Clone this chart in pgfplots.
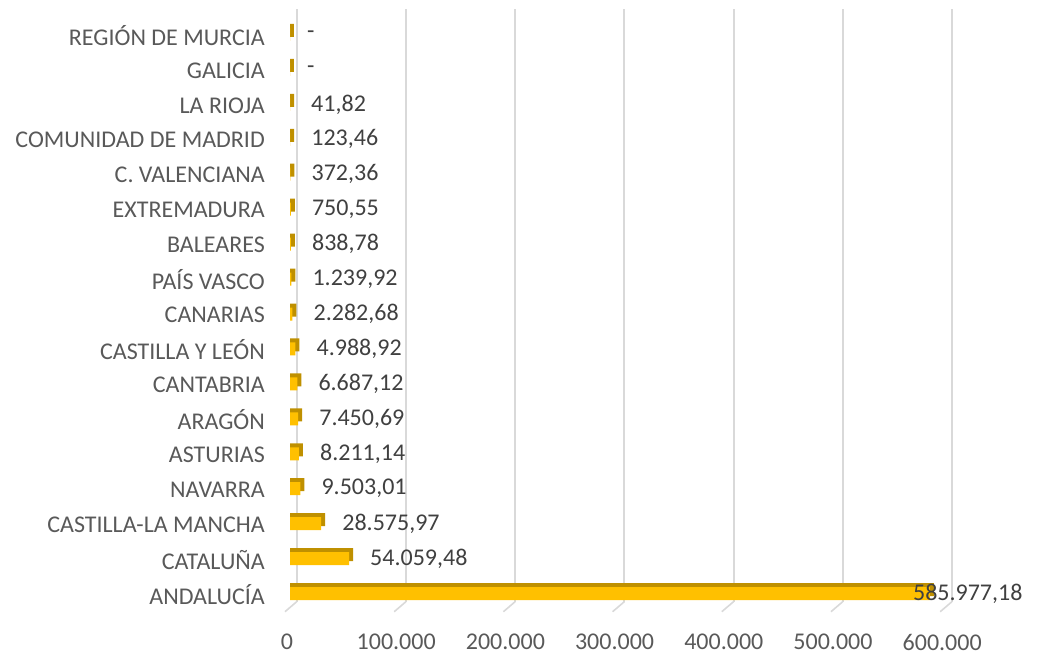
\documentclass[border=0pt]{standalone}
\usepackage{pgfplots}
\pgfplotsset{compat=1.18}
\usepackage{pgfplotstable}
\usepackage{fontspec}
\setmainfont{Carlito}
\definecolor{barfront}{HTML}{FFC000}
\definecolor{bardark}{HTML}{BF9000}
\definecolor{gridc}{HTML}{D9D9D9}
\definecolor{axtext}{HTML}{595959}
\definecolor{valtext}{HTML}{404040}
\pgfplotstableread{
y v lab dx
0 585977.18 585.977,18 -17
1 54059.48 54.059,48 21
2 28575.97 28.575,97 21
3 9503.01 9.503,01 21
4 8211.14 8.211,14 21
5 7450.69 7.450,69 21
6 6687.12 6.687,12 21
7 4988.92 4.988,92 21
8 2282.68 2.282,68 21
9 1239.92 1.239,92 21
10 838.78 838,78 21
11 750.55 750,55 21
12 372.36 372,36 21
13 123.46 123,46 21
14 41.82 41,82 21
15 0 - 17
16 0 - 17
}\datatable
\begin{document}
\begin{tikzpicture}
\path[use as bounding box] (0,0) rectangle (1041pt,657pt);
\begin{axis}[
  at={(290pt,46pt)}, anchor=south west,
  scale only axis, width=655.2pt, height=594pt,
  xmin=0, xmax=600000, ymin=-0.5, ymax=16.5,
  axis line style={draw=none}, tick style={draw=none},
  major tick length=0pt,
  xtick={0,100000,200000,300000,400000,500000,600000},
  xticklabels={0,100.000,200.000,300.000,400.000,500.000,600.000},
  ytick={0,...,16},
  yticklabels={ANDALUCÍA,CATALUÑA,CASTILLA-LA MANCHA,NAVARRA,ASTURIAS,ARAGÓN,CANTABRIA,CASTILLA Y LEÓN,CANARIAS,PAÍS VASCO,BALEARES,EXTREMADURA,C. VALENCIANA,COMUNIDAD DE MADRID,LA RIOJA,GALICIA,REGIÓN DE MURCIA},
  ticklabel style={font=\fontsize{24}{28}\selectfont, text=axtext, inner sep=0pt},
  xticklabel style={anchor=north, yshift=-23pt, xshift=-3pt},
  yticklabel style={anchor=east, xshift=-25pt, yshift=-1pt},
  clip=false,
]
\pgfplotsinvokeforeach{0,100000,200000,300000,400000,500000,600000}{
  \draw[gridc, line width=2pt] ([shift={(6.7pt,9.3pt)}]axis cs:#1,-0.5) -- ([shift={(6.7pt,8pt)}]axis cs:#1,16.5);
  \draw[gridc, line width=1.6pt] ([shift={(6.7pt,9.3pt)}]axis cs:#1,-0.5) -- ([shift={(-5pt,-0.7pt)}]axis cs:#1,-0.5);
}
\addplot[xbar, bar width=13pt, bar shift=4pt, fill=bardark, draw=none]
  table[x expr=\thisrow{v}+3660, y=y] {\datatable};
\addplot[xbar, bar width=13pt, bar shift=0pt, fill=barfront, draw=none,
  point meta=explicit symbolic,
  visualization depends on={\thisrow{dx} \as \dx},
  nodes near coords,
  nodes near coords style={anchor=west, inner sep=0pt, xshift=\dx pt, text=valtext, font=\fontsize{24}{28}\selectfont}]
  table[x=v, y=y, meta=lab] {\datatable};
\end{axis}
\end{tikzpicture}
\end{document}
